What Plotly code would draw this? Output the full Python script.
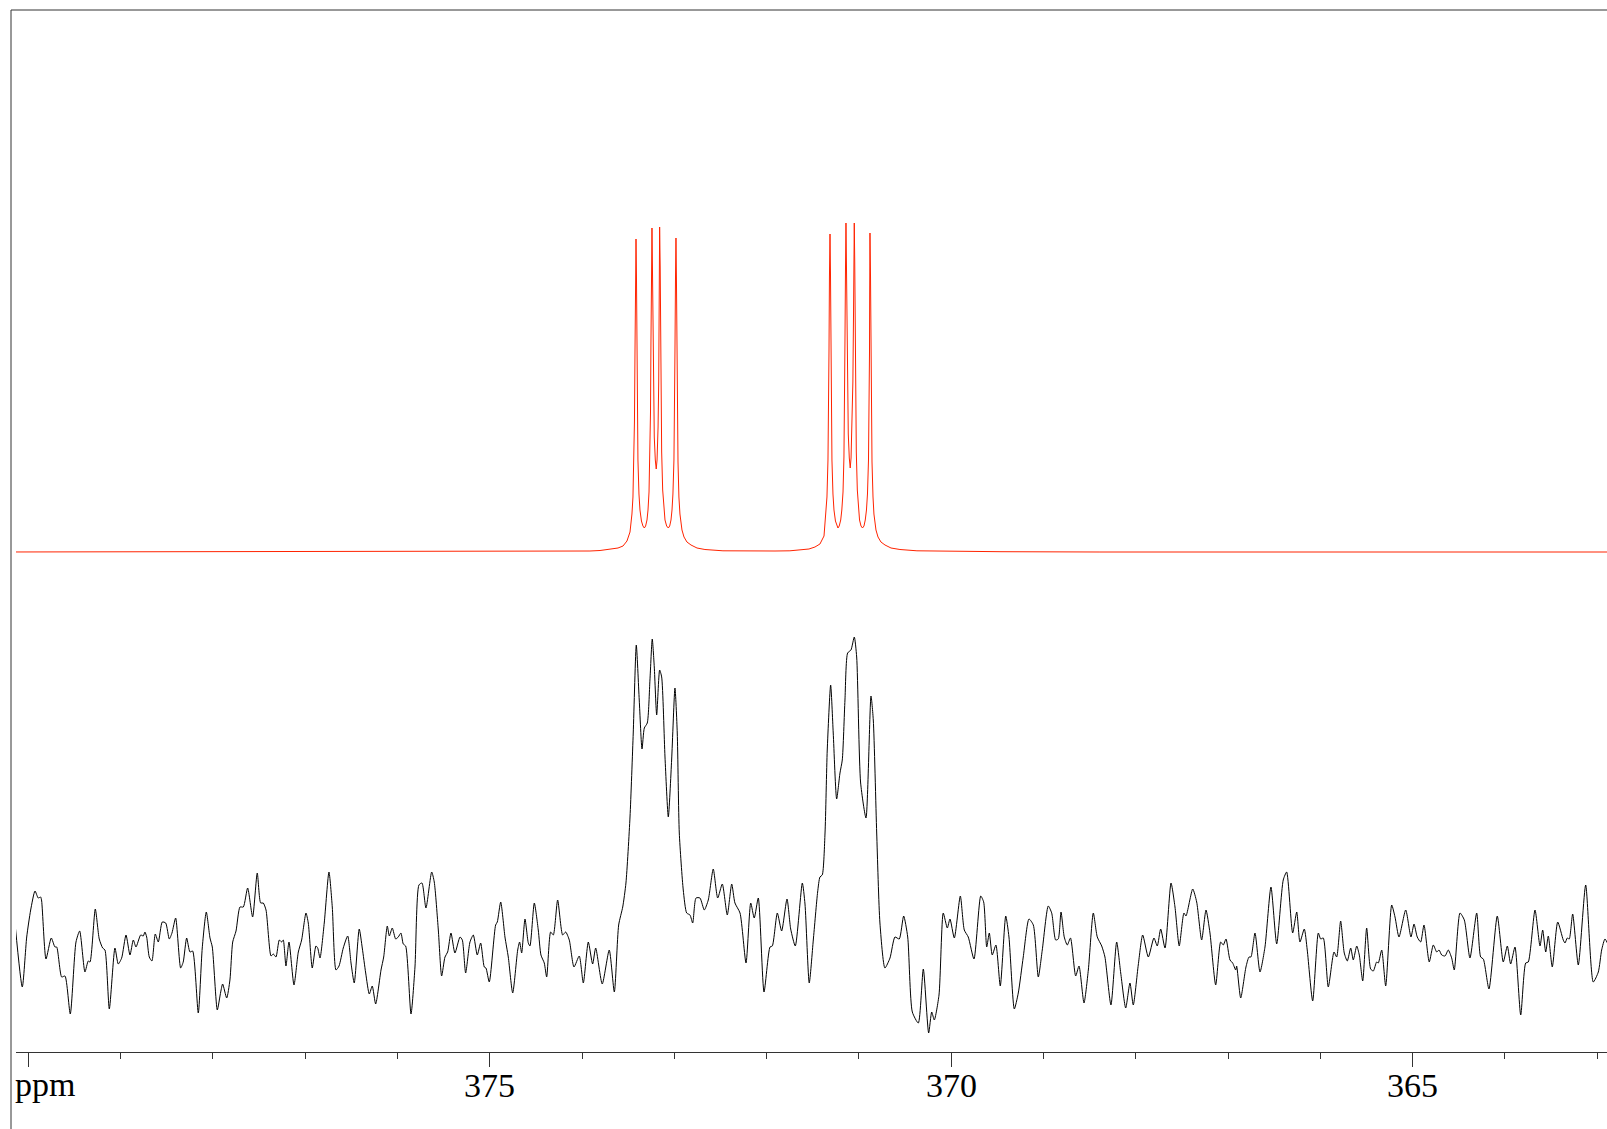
import plotly.graph_objects as go

# ---------------- data ----------------
# experimental spectrum (black), chemical shift in ppm and intensity (a.u.)
exp_ppm = [
    380.141, 380.065, 380.017, 379.974, 379.927, 379.892, 379.866, 379.855, 379.808, 379.751,
    379.711, 379.692, 379.638, 379.602, 379.545, 379.483, 379.443, 379.386, 379.350, 379.331,
    379.274, 379.231, 379.194, 379.169, 379.122, 379.061, 379.025, 378.988, 378.941, 378.898,
    378.862, 378.833, 378.782, 378.754, 378.736, 378.717, 378.689, 378.660, 378.624, 378.591,
    378.548, 378.511, 378.472, 378.443, 378.403, 378.349, 378.321, 378.284, 378.248, 378.219,
    378.158, 378.115, 378.071, 378.031, 378.006, 377.952, 377.915, 377.894, 377.850, 377.815,
    377.785, 377.749, 377.706, 377.670, 377.623, 377.569, 377.519, 377.482, 377.454, 377.424,
    377.370, 377.345, 377.316, 377.280, 377.254, 377.237, 377.208, 377.175, 377.121, 377.074,
    377.038, 376.991, 376.966, 376.923, 376.883, 376.864, 376.839, 376.793, 376.742, 376.706,
    376.666, 376.633, 376.587, 376.539, 376.503, 376.468, 376.414, 376.381, 376.344, 376.305,
    376.273, 376.236, 376.178, 376.149, 376.110, 376.088, 376.056, 376.019, 375.991, 375.962,
    375.937, 375.911, 375.853, 375.810, 375.767, 375.734, 375.691, 375.629, 375.601, 375.557,
    375.521, 375.485, 375.456, 375.420, 375.377, 375.322, 375.297, 375.261, 375.214, 375.178,
    375.135, 375.098, 375.059, 375.041, 375.005, 374.936, 374.918, 374.881, 374.835, 374.799,
    374.751, 374.697, 374.676, 374.654, 374.618, 374.582, 374.564, 374.517, 374.474, 374.445,
    374.409, 374.383, 374.340, 374.311, 374.264, 374.210, 374.177, 374.138, 374.087, 374.030,
    373.986, 373.932, 373.885, 373.852, 373.781, 373.705, 373.650, 373.603, 373.559, 373.524,
    373.480, 373.445, 373.412, 373.380, 373.350, 373.325, 373.293, 373.264, 373.239, 373.217,
    373.191, 373.159, 373.137, 373.101, 373.065, 373.029, 372.993, 372.968, 372.946, 372.903,
    372.866, 372.830, 372.801, 372.765, 372.722, 372.675, 372.632, 372.578, 372.530, 372.480,
    372.426, 372.378, 372.343, 372.288, 372.223, 372.172, 372.134, 372.090, 372.028, 371.963,
    371.938, 371.884, 371.837, 371.779, 371.739, 371.689, 371.613, 371.584, 371.538, 371.494,
    371.447, 371.422, 371.397, 371.367, 371.343, 371.306, 371.278, 371.241, 371.205, 371.180,
    371.151, 371.122, 371.086, 371.050, 371.024, 370.981, 370.923, 370.869, 370.844, 370.807,
    370.772, 370.718, 370.663, 370.609, 370.563, 370.515, 370.471, 370.421, 370.356, 370.302,
    370.244, 370.211, 370.183, 370.132, 370.086, 370.042, 370.013, 369.966, 369.901, 369.858,
    369.815, 369.753, 369.680, 369.648, 369.615, 369.587, 369.555, 369.515, 369.468, 369.409,
    369.374, 369.316, 369.273, 369.219, 369.157, 369.110, 369.056, 369.013, 368.948, 368.911,
    368.868, 368.840, 368.810, 368.775, 368.742, 368.707, 368.651, 368.615, 368.561, 368.514,
    368.460, 368.417, 368.369, 368.334, 368.269, 368.207, 368.163, 368.109, 368.063, 368.027,
    367.973, 367.925, 367.864, 367.803, 367.767, 367.730, 367.683, 367.618, 367.575, 367.529,
    367.478, 367.456, 367.383, 367.340, 367.286, 367.239, 367.196, 367.134, 367.080, 367.052,
    367.022, 366.979, 366.950, 366.917, 366.907, 366.863, 366.806, 366.773, 366.752, 366.708,
    366.654, 366.600, 366.535, 366.473, 366.402, 366.365, 366.300, 366.256, 366.221, 366.174,
    366.142, 366.083, 366.022, 365.996, 365.968, 365.914, 365.852, 365.823, 365.780, 365.741,
    365.708, 365.671, 365.643, 365.606, 365.578, 365.541, 365.498, 365.455, 365.426, 365.390,
    365.372, 365.335, 365.292, 365.227, 365.191, 365.148, 365.075, 365.018, 364.985, 364.950,
    364.913, 364.877, 364.820, 364.776, 364.739, 364.714, 364.685, 364.649, 364.614, 364.577,
    364.549, 364.487, 364.440, 364.379, 364.306, 364.263, 364.234, 364.173, 364.083, 364.018,
    363.974, 363.938, 363.891, 363.829, 363.775, 363.747, 363.674, 363.620, 363.591, 363.558,
    363.530, 363.487, 363.428, 363.368, 363.349, 363.324, 363.303, 363.266, 363.205, 363.125,
    363.043, 362.988, 362.952, 362.916, 362.880,
]
exp_intensity = [
    14, -47, 3, 30, 49, 42, 43, 39, -19, 2,
    -7, -7, -37, -36, -74, -2, 9, -32, -21, -22,
    31, 1, -8, -10, -69, -8, -24, -18, 5, -15,
    0, -7, 5, 4, 8, 3, -17, -21, 6, -2,
    18, 17, 1, 7, 22, -28, -22, 2, -12, -11,
    -73, -8, 28, 2, -7, -70, -52, -44, -58, -40,
    -2, 9, 33, 33, 52, 23, 67, 37, 37, 30,
    -16, -14, -17, 0, -2, 0, -26, -2, -45, -12,
    0, 27, 17, -28, -6, -8, -18, 17, 68, 33,
    -30, -26, -8, 4, -23, -43, 11, -8, -33, -54,
    -46, -64, -30, -17, 14, 4, 12, 1, 3, 7,
    -4, -6, -74, -27, 55, 57, 32, 68, 58, 10,
    -36, -17, -12, 7, -13, 3, 0, -33, -2, 5,
    -15, -3, -27, -28, -42, 15, 18, 38, 3, -17,
    -53, -10, -2, -13, 21, -3, -6, 37, 10, -15,
    -23, -37, 8, 5, 40, 5, 8, 0, -27, -16,
    -43, -2, -24, -8, -44, -10, -52, 15, 33, 57,
    123, 207, 295, 240, 191, 212, 217, 260, 301, 273,
    225, 270, 263, 183, 123, 180, 252, 207, 107, 50,
    27, 25, 17, 42, 42, 30, 40, 71, 42, 56,
    25, 56, 37, 27, -23, 37, 22, 42, -52, -7,
    -6, 27, 9, 41, 11, -6, 57, 36, -43, 0,
    48, 63, 65, 107, 190, 255, 207, 141, 167, 180,
    240, 287, 290, 303, 283, 157, 122, 244, 220, 107,
    17, -28, -18, 3, 1, 24, 3, -72, -83, -29,
    -93, -72, -80, -55, 27, 12, 21, 2, 44, 10,
    3, -19, 44, 38, -7, 7, -15, -5, -46, 24,
    3, -69, -53, -17, 21, 15, -37, -10, 34, 27,
    0, 1, 28, 3, -5, 2, -36, -26, -63, -30,
    27, 3, -6, -17, -65, -2, -33, -68, -43, -65,
    -25, 5, -17, 2, -6, 11, -8, 57, 33, -6,
    27, 24, 51, 38, 0, 30, 7, -45, -2, -5,
    1, -20, -23, -30, -26, -58, -27, -17, -17, 7,
    -32, -7, 53, -4, 60, 68, 7, 28, -2, 11,
    -10, -61, 7, 1, 2, -47, -12, -17, 19, -13,
    -21, -8, -20, -6, -15, -41, 12, -29, -31, -22,
    -23, -10, -46, 35, 23, 3, 30, 3, 16, 3,
    -2, 15, -22, -5, -12, -10, -15, -16, -10, -18,
    -30, 27, 20, -18, 27, -17, -19, -49, 24, -22,
    -6, -24, -7, -75, -23, -22, 30, -6, 10, -12,
    4, -27, 18, 0, -3, 2, 1, 26, -25, 55,
    -42, -32, -10, 1, -5,
]

# simulated spectrum (red), chemical shift in ppm and intensity (a.u.) above its own baseline
sim_ppm = [
    380.300, 374.239, 373.914, 373.805, 373.697, 373.610, 373.556, 373.513, 373.480, 373.459,
    373.448, 373.437, 373.432, 373.426, 373.421, 373.415, 373.410, 373.405, 373.399, 373.394,
    373.383, 373.372, 373.356, 373.340, 373.325, 373.311, 373.296, 373.285, 373.274, 373.264,
    373.258, 373.253, 373.247, 373.242, 373.237, 373.231, 373.226, 373.217, 373.206, 373.196,
    373.187, 373.176, 373.169, 373.164, 373.159, 373.153, 373.148, 373.142, 373.137, 373.126,
    373.115, 373.101, 373.083, 373.065, 373.050, 373.036, 373.025, 373.015, 373.004, 372.998,
    372.993, 372.987, 372.982, 372.977, 372.971, 372.966, 372.960, 372.950, 372.939, 372.917,
    372.895, 372.863, 372.819, 372.754, 372.668, 372.473, 372.180, 371.963, 371.909, 371.747,
    371.638, 371.541, 371.476, 371.422, 371.378, 371.357, 371.346, 371.335, 371.330, 371.324,
    371.319, 371.313, 371.308, 371.302, 371.297, 371.292, 371.281, 371.270, 371.254, 371.240,
    371.227, 371.213, 371.197, 371.185, 371.172, 371.162, 371.156, 371.151, 371.145, 371.140,
    371.135, 371.129, 371.124, 371.115, 371.104, 371.094, 371.085, 371.074, 371.065, 371.058,
    371.050, 371.045, 371.039, 371.034, 371.028, 371.017, 371.007, 370.993, 370.977, 370.961,
    370.945, 370.931, 370.918, 370.907, 370.896, 370.891, 370.885, 370.883, 370.880, 370.874,
    370.869, 370.864, 370.858, 370.847, 370.837, 370.815, 370.793, 370.761, 370.717, 370.652,
    370.555, 370.371, 370.013, 369.471, 368.388, 362.800,
]
sim_intensity = [
    0, 0.5, 1, 1.5, 2.5, 4, 6, 11, 20, 38,
    55, 90, 130, 200, 275, 313, 275, 200, 130, 92,
    58, 42, 31, 26, 24, 26, 32, 42, 60, 95,
    140, 210, 285, 324, 285, 215, 160, 115, 92, 83,
    92, 125, 170, 240, 325, 285, 210, 140, 100, 62,
    44, 32, 26, 24, 26, 32, 42, 58, 92, 130,
    200, 275, 314, 275, 200, 130, 90, 55, 38, 22,
    15, 10, 7, 4, 2.5, 1.2, 0.8, 1, 1, 1.2,
    2, 3, 5, 8, 16, 38, 55, 92, 130, 200,
    275, 318, 280, 205, 132, 92, 58, 42, 31, 26,
    24, 26, 32, 42, 60, 95, 140, 210, 285, 329,
    290, 220, 165, 118, 94, 84, 94, 125, 170, 240,
    329, 290, 215, 142, 100, 62, 44, 32, 26, 24,
    26, 32, 42, 58, 92, 130, 200, 260, 319, 275,
    200, 130, 90, 55, 38, 22, 15, 10, 7, 4,
    2.5, 1.2, 0.6, 0.3, 0, 0,
]

major_ticks = [380, 375, 370, 365]
major_labels = ["", "375", "370", "365"]
axis_title = "ppm"

# ---------------- display settings ----------------
SIM_OFFSET = 388          # vertical offset of the simulated trace (stacked display)
X_RANGE = [380.133, 362.894]
Y_RANGE = [-112, 930]
FONT = "Liberation Serif, Times New Roman, serif"
AXIS_COLOR = "#333333"
LABEL_Y = -0.0326

fig = go.Figure()
fig.add_trace(go.Scatter(
    x=exp_ppm, y=exp_intensity, mode="lines",
    line=dict(color="black", width=1, shape="spline", smoothing=0.6),
    hoverinfo="skip", showlegend=False,
))
fig.add_trace(go.Scatter(
    x=sim_ppm, y=[v + SIM_OFFSET for v in sim_intensity], mode="lines",
    line=dict(color="rgb(255,35,0)", width=1),
    hoverinfo="skip", showlegend=False,
))

annotations = [
    dict(text=axis_title, xref="paper", yref="paper", x=-0.002, y=-0.031,
         xanchor="left", yanchor="middle", showarrow=False,
         font=dict(family=FONT, size=34, color="black")),
]
for v, t in zip(major_ticks, major_labels):
    if t:
        annotations.append(dict(
            text=t, xref="x", yref="paper", x=v, y=LABEL_Y,
            xanchor="center", yanchor="middle", showarrow=False,
            font=dict(family=FONT, size=34, color="black")))

fig.update_layout(
    width=1607, height=1129,
    margin=dict(l=16, r=0, t=10, b=77, pad=0),
    paper_bgcolor="white", plot_bgcolor="white",
    showlegend=False,
    xaxis=dict(
        range=X_RANGE, showgrid=False, zeroline=False,
        showline=True, linecolor=AXIS_COLOR, linewidth=1,
        ticks="outside", ticklen=14, tickwidth=1, tickcolor=AXIS_COLOR,
        tickvals=major_ticks, showticklabels=False,
        minor=dict(dtick=1, tick0=0, ticks="outside", ticklen=6,
                   tickwidth=1, tickcolor=AXIS_COLOR, showgrid=False),
        fixedrange=True,
    ),
    yaxis=dict(range=Y_RANGE, visible=False, fixedrange=True),
    shapes=[
        dict(type="line", xref="paper", yref="paper", x0=-0.00314, x1=1.0, y0=1.0, y1=1.0,
             line=dict(color=AXIS_COLOR, width=1)),
        dict(type="line", xref="paper", yref="paper", x0=-0.00314, x1=-0.00314, y0=1.0, y1=-0.08,
             line=dict(color=AXIS_COLOR, width=1)),
    ],
    annotations=annotations,
)

fig.write_html("out.html", config={"displayModeBar": False})
